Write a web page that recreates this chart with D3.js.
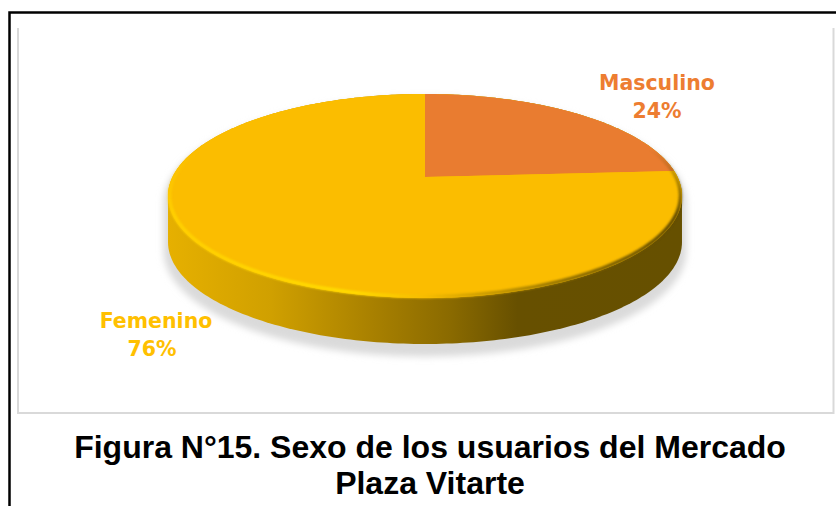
<!DOCTYPE html>
<html><head><meta charset="utf-8">
<script src="https://cdn.jsdelivr.net/npm/d3@7"></script>
<style>html,body{margin:0;padding:0;background:#fff;overflow:hidden}svg{display:block}</style>
</head><body><svg id="c" width="836" height="506"></svg>
<script>
const categories = ["Masculino", "Femenino"];
const percentValues = [24, 76];
const sliceColors = ["#E97C30", "#FBBD00"];
const labelColors = ["#ED7D31", "#FFC000"];
const titleLines = ["Figura N°15. Sexo de los usuarios del Mercado", "Plaza Vitarte"];

const svg = d3.select("#c");
const defs = svg.append("defs");
const cx = 425, cy = 196, rx = 257, ry = 102, depth = 46;
const persp = 0.186, apexOff = -19, ax = 252.5;

// frame
svg.append("path").attr("d","M9.5,506V12.5H836").attr("fill","none").attr("stroke","#000").attr("stroke-width",2.5);
svg.append("path").attr("d","M18,28V413H833.5V28").attr("fill","none").attr("stroke","#d9d9d9").attr("stroke-width",2);

// projected disc
const xS = d3.scaleLinear().domain([-1,1]).range([-ax,ax]);
const yS = d3.scaleLinear().domain([-1,1]).range([ry,-ry]);
const project = (u,v)=>{const w=1+persp*v;return [cx+xS(u)/w, cy+(yS(v)+apexOff)/w];};
const pie = d3.pie().sort(null).value(d=>d);
const arcs = pie(percentValues);
const line = d3.line();
function wedge(a){
  const n=Math.ceil((a.endAngle-a.startAngle)*60);
  const pts=[project(0,0)];
  for(let i=0;i<=n;i++){const t=a.startAngle+(a.endAngle-a.startAngle)*i/n;pts.push(project(Math.sin(t),Math.cos(t)));}
  return line(pts)+"Z";
}
const rim=d3.range(0,361).map(d=>{const t=d*Math.PI/180;return project(Math.sin(t),Math.cos(t));});

// gradients / filters
const sg=defs.append("linearGradient").attr("id","side").attr("gradientUnits","userSpaceOnUse")
  .attr("x1",cx-rx).attr("x2",cx+rx).attr("y1",0).attr("y2",0);
[[0,"#e6b000"],[0.2,"#d0a000"],[0.4,"#a88000"],[0.55,"#8a6a00"],[0.68,"#675000"],[1,"#665000"]]
  .forEach(([o,c])=>sg.append("stop").attr("offset",o).attr("stop-color",c));
const bg=defs.append("linearGradient").attr("id","bev").attr("gradientUnits","userSpaceOnUse")
  .attr("x1",cx-rx).attr("x2",cx+rx).attr("y1",0).attr("y2",0);
[[0,"#FFD000"],[0.36,"#FFDC00"],[0.5,"#F6BC00"],[0.62,"#C89A00"],[0.78,"#8E6E00"],[1,"#5c4700"]]
  .forEach(([o,c])=>bg.append("stop").attr("offset",o).attr("stop-color",c));
const fade=defs.append("linearGradient").attr("id","fade").attr("gradientUnits","userSpaceOnUse")
  .attr("x1",0).attr("x2",0).attr("y1",150).attr("y2",215);
fade.append("stop").attr("offset",0).attr("stop-color","#000");
fade.append("stop").attr("offset",1).attr("stop-color","#fff");
defs.append("mask").attr("id","bevmask").attr("maskUnits","userSpaceOnUse")
  .attr("x",0).attr("y",0).attr("width",836).attr("height",506)
  .append("rect").attr("width",836).attr("height",506).attr("fill","url(#fade)");
defs.append("filter").attr("id","blur").attr("x","-10%").attr("y","-20%").attr("width","120%").attr("height","140%")
  .append("feGaussianBlur").attr("stdDeviation",3.5);
defs.append("filter").attr("id","edge").attr("x","-5%").attr("y","-10%").attr("width","110%").attr("height","120%")
  .append("feGaussianBlur").attr("stdDeviation",1.2);

// shadow
const sidePts=[...rim,...rim.map(p=>[p[0],p[1]+depth])];
const hull=d3.polygonHull(sidePts);
svg.append("path").attr("d",line(hull.map(p=>[p[0],p[1]+8]))+"Z")
  .attr("fill","#dadada").attr("stroke","#dadada").attr("stroke-width",9).attr("filter","url(#blur)");
// side
svg.append("path").attr("d",line(hull)+"Z").attr("fill","url(#side)");
// top
svg.append("path").attr("d",line(rim)+"Z").attr("fill",sliceColors[1]);
svg.selectAll("path.slice").data(arcs).join("path").attr("class","slice")
  .attr("d",wedge).attr("fill",(d,i)=>sliceColors[i]);
// bevel: front edge of the disc, bright on the left and dark on the right
svg.append("g").attr("mask","url(#bevmask)")
  .append("path").attr("d",line(rim.slice(60,330).map(p=>[cx+(p[0]-cx)*0.994,cy+(p[1]-cy)*0.985])))
  .attr("fill","none").attr("stroke","url(#bev)").attr("stroke-width",3.5).attr("filter","url(#edge)");

// labels
const labelPos=[[657,83,111],[156,321,349]];
const lab=svg.selectAll("g.lab").data(categories).join("g").attr("class","lab")
  .attr("font-family","'DejaVu Sans',Verdana,sans-serif").attr("font-weight","bold").attr("font-size",20.5)
  .attr("text-anchor","middle").attr("fill",(d,i)=>labelColors[i]);
lab.append("text").attr("x",(d,i)=>labelPos[i][0]).attr("y",(d,i)=>labelPos[i][1]+7).text(d=>d);
lab.append("text").attr("x",(d,i)=>labelPos[i][0]-(i?4:0)).attr("y",(d,i)=>labelPos[i][2]+7).text((d,i)=>percentValues[i]+"%");

// title
svg.selectAll("text.title").data(titleLines).join("text").attr("class","title")
  .attr("x",430).attr("y",(d,i)=>458+i*36).attr("text-anchor","middle")
  .attr("font-family","'Liberation Sans',Arial,sans-serif").attr("font-weight","bold").attr("font-size",32).attr("fill","#000").text(d=>d);
</script></body></html>
